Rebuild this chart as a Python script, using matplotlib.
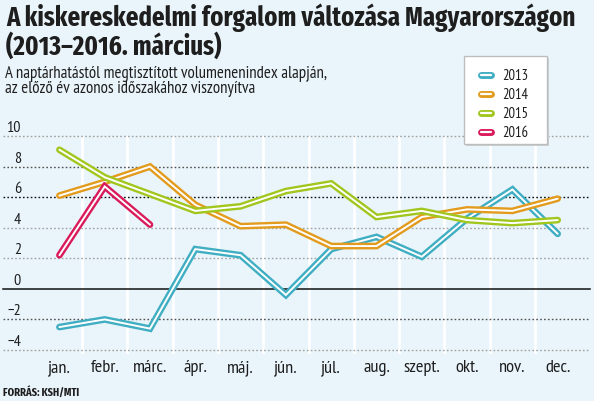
import matplotlib
matplotlib.use("Agg")
import matplotlib.pyplot as plt
from matplotlib.patches import Rectangle
from matplotlib.lines import Line2D
from matplotlib import font_manager as fm

months = ["jan.", "febr.", "márc.", "ápr.", "máj.", "jún.", "júl.", "aug.", "szept.", "okt.", "nov.", "dec."]
v2013 = [-2.5, -2.0, -2.6, 2.6, 2.2, -0.4, 2.6, 3.4, 2.1, 4.6, 6.5, 3.6]
v2014 = [6.1, 7.0, 8.0, 5.5, 4.1, 4.2, 2.8, 2.8, 4.7, 5.2, 5.1, 5.9]
v2015 = [9.1, 7.3, 6.2, 5.1, 5.4, 6.4, 6.9, 4.7, 5.1, 4.5, 4.3, 4.5]
v2016 = [2.2, 6.7, 4.2]
years = ["2013", "2014", "2015", "2016"]
yticks = [10, 8, 6, 4, 2, 0, -2, -4]

colors = ["#3FAEC2", "#E29B1C", "#A1C61E", "#DA1B5B"]
BG = "#EAF5FB"
TXT = "#1e1e1e"

names = {f.name for f in fm.fontManager.ttflist}


def pick(cands):
    for c in cands:
        if c in names:
            return c
    return "DejaVu Sans"


TITLE_FONT = pick(["Fira Sans Extra Condensed", "Roboto Condensed", "PT Sans Narrow",
                   "Archivo Narrow", "Barlow Condensed", "Open Sans Condensed"])
BODY_FONT = pick(["PT Sans Narrow", "Fira Sans Condensed", "Roboto Condensed",
                  "Archivo Narrow", "Barlow Semi Condensed", "Open Sans Condensed"])
plt.rcParams["font.family"] = [BODY_FONT, "DejaVu Sans"]

W, H = 594, 402
fig = plt.figure(figsize=(W / 100, H / 100), dpi=100, facecolor=BG)
renderer = fig.canvas.get_renderer()


def fit(t, width):
    """scale a text's font size so its rendered width equals width pixels"""
    for _ in range(3):
        w = t.get_window_extent(renderer).width
        t.set_fontsize(t.get_fontsize() * width / w)
    return t.get_fontsize()


def px(x, y):
    return x / W, 1 - y / H


# axes spanning pixel x 3..590, y 137..355
x0, x1 = 3, 590
ytop, ybot = 137, 355
ax = fig.add_axes([x0 / W, 1 - ybot / H, (x1 - x0) / W, (ybot - ytop) / H])
ax.set_facecolor(BG)
ppu = (351 - 137) / 14.0
ax.set_ylim(-4 - (ybot - 351) / ppu, 10)
left = -(59.4 - x0) / 45.3
right = 11 + (x1 - 557.7) / 45.3
ax.set_xlim(left, right)
for s in ax.spines.values():
    s.set_visible(False)
ax.set_xticks([])
ax.set_yticks([])

# vertical white separators
for i in range(11):
    ax.axvline(i + 0.5, color="white", lw=2.0, zorder=1)

# horizontal grid
grid_col = {10: "#A0A0A0", 8: "#505050", 6: "#111111", 4: "#A0A0A0", 2: "#A0A0A0",
            -2: "#505050", -4: "#A0A0A0"}
for y in yticks:
    if y == 0:
        ax.axhline(0, color="#111111", lw=1.1, zorder=2, clip_on=False)
    else:
        ax.axhline(y, color=grid_col[y], lw=1.0, ls=(0, (1.2, 1.6)), zorder=2, clip_on=False)
    lab = str(y).replace("-", "\u2212")
    fig.text(*px(21, ytop + (10 - y) * ppu - 9), lab, fontsize=11.5, color=TXT,
             ha="right", va="center")

series = [v2013, v2014, v2015, v2016]
for vals, c in zip(series, colors):
    xs = list(range(len(vals)))
    ax.plot(xs, vals, color=c, lw=4.8, solid_capstyle="round", solid_joinstyle="miter", zorder=3)
    ax.plot(xs, vals, color="white", lw=1.4, solid_capstyle="round", solid_joinstyle="miter", zorder=3)

# month labels
mt = [ax.text(i, -4 - (368 - 351) / ppu, m, ha="center", va="center", fontsize=11, color=TXT)
      for i, m in enumerate(months)]
fs = fit(mt[8], 37)
for t in mt:
    t.set_fontsize(fs)

# titles
t1 = fig.text(*px(6, 18), "A kiskereskedelmi forgalom változása Magyarországon", fontsize=20,
              family=[TITLE_FONT, "DejaVu Sans"], fontweight="bold", color=TXT, va="center", ha="left")
fs = fit(t1, 569)
fig.text(*px(6, 46), "(2013–2016. március)", fontsize=fs,
         family=[TITLE_FONT, "DejaVu Sans"], fontweight="bold", color=TXT, va="center", ha="left")
s1 = fig.text(*px(5, 74), "A naptárhatástól megtisztított volumenenindex alapján,", fontsize=11,
              color=TXT, va="center", ha="left")
fs = fit(s1, 322)
fig.text(*px(5, 89), "az előző év azonos időszakához viszonyítva", fontsize=fs,
         color=TXT, va="center", ha="left")
src = fig.text(*px(3, 392), "FORRÁS: KSH/MTI", fontsize=8, fontweight="bold",
               family=[TITLE_FONT, "DejaVu Sans"], color=TXT, va="center", ha="left")
fit(src, 76)

# legend box (drawn manually in figure pixel positions)
shadow = Rectangle(px(466, 147), 83 / W, 88 / H, transform=fig.transFigure,
                   facecolor="#C9CFD3", edgecolor="none", zorder=5)
box = Rectangle(px(464, 145), 83 / W, 88 / H, transform=fig.transFigure,
                facecolor="white", edgecolor="#BDBDBD", lw=1.0, zorder=6)
fig.add_artist(shadow)
fig.add_artist(box)
ly = [76, 95, 114, 133]
lt = []
for yr, c, yy in zip(years, colors, ly):
    for col, lw in ((c, 5.0), ("white", 1.6)):
        fig.add_artist(Line2D([481 / W, 491 / W], [1 - yy / H] * 2, transform=fig.transFigure,
                              color=col, lw=lw, solid_capstyle="round", zorder=7))
    lt.append(fig.text(*px(502, yy), yr, fontsize=12, color=TXT, va="center", ha="left", zorder=7))
fs = fit(lt[0], 26)
for t in lt:
    t.set_fontsize(fs)

fig.savefig("out.png", dpi=100, facecolor=BG)
